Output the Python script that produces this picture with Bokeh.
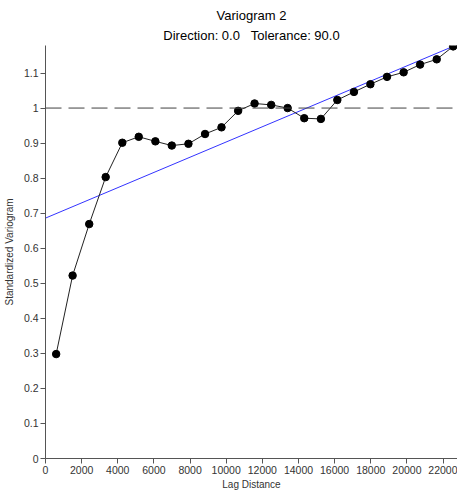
from bokeh.plotting import figure
from bokeh.models import Title, Span, Range1d, FixedTicker, ColumnDataSource, CustomJSTickFormatter, NumeralTickFormatter
from bokeh.embed import file_html
from bokeh.resources import INLINE

# Experimental variogram (lag distance, standardized semivariance)
lags = [590, 1500, 2420, 3330, 4250, 5160, 6080, 6990, 7910, 8830, 9740, 10660, 11570,
        12490, 13400, 14320, 15240, 16150, 17070, 17980, 18900, 19820, 20730, 21650, 22560]
gamma = [0.298, 0.522, 0.669, 0.803, 0.901, 0.918, 0.905, 0.893, 0.898, 0.926, 0.945, 0.992,
         1.013, 1.009, 1.000, 0.971, 0.969, 1.023, 1.046, 1.068, 1.089, 1.102, 1.124, 1.139, 1.176]

# Linear model fit
fit_intercept = 0.686
fit_slope = 2.172e-5
sill = 1.0

x_ticks = [0, 2000, 4000, 6000, 8000, 10000, 12000, 14000, 16000, 18000, 20000, 22000]
y_ticks = [0, 0.1, 0.2, 0.3, 0.4, 0.5, 0.6, 0.7, 0.8, 0.9, 1.0, 1.1]

title_main = "Variogram 2"
title_sub = "Direction: 0.0\u00a0\u00a0\u00a0Tolerance: 90.0"
x_label = "Lag Distance"
y_label = "Standardized Variogram"

FONT = "Liberation Sans"

p = figure(width=457, height=492, output_backend="svg", toolbar_location=None,
           x_range=Range1d(0, 22800), y_range=Range1d(0, 1.1785),
           title=title_main,
           min_border_left=44, min_border_right=0, min_border_top=45, min_border_bottom=33)
p.title.align = "center"
p.title.text_font = FONT
p.title.text_font_size = "13px"
p.title.text_font_style = "normal"
p.title.text_color = "#000000"
p.title.standoff = 0
sub = Title(text=title_sub, align="center", text_font=FONT, text_font_size="13px",
            text_font_style="normal", text_color="#000000", standoff=6)
p.add_layout(sub, "above")

p.xgrid.visible = False
p.ygrid.visible = False
p.outline_line_color = None
p.background_fill_color = "white"
p.border_fill_color = "white"

for ax in (p.xaxis[0], p.yaxis[0]):
    ax.axis_line_color = "#555555"
    ax.major_tick_line_color = "#555555"
    ax.major_tick_out = 5
    ax.major_tick_in = 0
    ax.minor_tick_line_color = None
    ax.major_label_text_font = FONT
    ax.major_label_text_font_size = "10.5px"
    ax.major_label_text_color = "#333333"
    ax.axis_label_text_font = FONT
    ax.axis_label_text_font_size = "10px"
    ax.axis_label_text_font_style = "normal"
    ax.axis_label_text_color = "#333333"
    ax.major_label_standoff = 2

p.xaxis.ticker = FixedTicker(ticks=x_ticks)
p.xaxis.formatter = NumeralTickFormatter(format="0")
p.xaxis.axis_label = x_label
p.xaxis.axis_label_standoff = 2

p.yaxis.ticker = FixedTicker(ticks=y_ticks)
p.yaxis.formatter = CustomJSTickFormatter(code="return String(Math.round(tick*10)/10);")
p.yaxis.axis_label = y_label
p.yaxis.axis_label_standoff = 6

p.add_layout(Span(location=sill, dimension="width", line_color="#404040",
                  line_width=1, line_dash="16 7"))

fit_x = [0, lags[-1]]
fit_y = [fit_intercept + fit_slope * v for v in fit_x]
p.line(fit_x, fit_y, line_color="#3333ff", line_width=1)

src = ColumnDataSource(dict(x=lags, y=gamma))
p.line("x", "y", source=src, line_color="#222222", line_width=1)
p.scatter("x", "y", source=src, size=7.5, fill_color="#000000", line_color="#000000")

open("out.html", "w").write(file_html(p, INLINE))
